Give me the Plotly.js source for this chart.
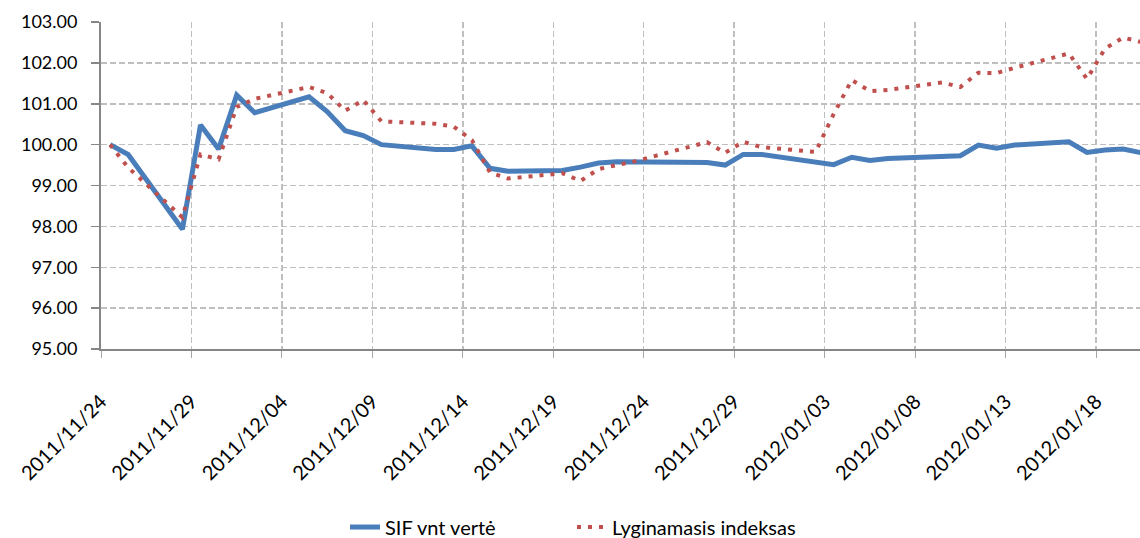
<!DOCTYPE html>
<html>
<head>
<meta charset="utf-8">
<script src="https://cdn.plot.ly/plotly-3.0.1.min.js"></script>
<style>
  html, body { margin: 0; padding: 0; background: #ffffff; overflow: hidden; }
  #chart { width: 1140px; height: 538px; }
</style>
</head>
<body>
<div id="chart"></div>
<script>
// Trading dates
const dates = [
  "2011-11-24","2011-11-25","2011-11-28","2011-11-29","2011-11-30",
  "2011-12-01","2011-12-02","2011-12-05","2011-12-06","2011-12-07",
  "2011-12-08","2011-12-09","2011-12-12","2011-12-13","2011-12-14",
  "2011-12-15","2011-12-16","2011-12-19","2011-12-20","2011-12-21",
  "2011-12-22","2011-12-23","2011-12-27","2011-12-28","2011-12-29",
  "2011-12-30","2012-01-02","2012-01-03","2012-01-04","2012-01-05",
  "2012-01-06","2012-01-09","2012-01-10","2012-01-11","2012-01-12",
  "2012-01-13","2012-01-16","2012-01-17","2012-01-18","2012-01-19",
  "2012-01-20"
];

// SIF vnt vertė
const sifValues = [
  100.00, 99.76, 97.93, 100.48, 99.89,
  101.21, 100.78, 101.17, 100.81, 100.34,
  100.22, 100.00, 99.88, 99.88, 99.97,
  99.42, 99.35, 99.37, 99.45, 99.55,
  99.58, 99.58, 99.56, 99.50, 99.76,
  99.76, 99.57, 99.51, 99.69, 99.61,
  99.66, 99.71, 99.73, 99.99, 99.91,
  99.99, 100.07, 99.81, 99.87, 99.89,
  99.80
];

// Lyginamasis indeksas
const indexValues = [
  100.00, 99.44, 98.22, 99.76, 99.64,
  100.92, 101.12, 101.41, 101.26, 100.83,
  101.09, 100.57, 100.51, 100.44, 100.11,
  99.32, 99.17, 99.30, 99.11, 99.40,
  99.50, 99.59, 100.06, 99.80, 100.07,
  99.94, 99.82, 100.75, 101.58, 101.31,
  101.34, 101.52, 101.41, 101.76, 101.75,
  101.88, 102.23, 101.61, 102.35, 102.62,
  102.51
];

const seriesNames = ["SIF vnt vertė", "Lyginamasis indeksas"];

const DAY = 86400000;
const fontFamily = "Lato, 'Open Sans', sans-serif";

const traces = [
  {
    x: dates, y: sifValues, name: seriesNames[0],
    type: "scatter", mode: "lines", legend: "legend",
    xperiod: DAY, xperiodalignment: "middle",
    line: { color: "#4A7EBB", width: 5 }
  },
  {
    x: dates, y: indexValues, name: seriesNames[1],
    type: "scatter", mode: "lines", legend: "legend2",
    xperiod: DAY, xperiodalignment: "middle",
    line: { color: "#C0504D", width: 4, dash: "4px,7px" }
  }
];

const legendBase = {
  orientation: "h",
  xref: "container", yref: "container",
  xanchor: "left",
  y: 0.0204, yanchor: "middle",
  font: { family: fontFamily, size: 20, color: "#000000" },
  bgcolor: "rgba(0,0,0,0)"
};

const layout = {
  width: 1140, height: 538,
  margin: { l: 101, r: 0, t: 22, b: 189, pad: 0, autoexpand: false },
  paper_bgcolor: "#ffffff",
  plot_bgcolor: "#ffffff",
  font: { family: fontFamily, size: 20, color: "#000000" },
  showlegend: true,
  legend: Object.assign({}, legendBase, { x: 345 / 1140 }),
  legend2: Object.assign({}, legendBase, { x: 572 / 1140 }),
  xaxis: {
    type: "date",
    range: ["2011-11-24", "2012-01-20 10:20"],
    tick0: "2011-11-24",
    dtick: 5 * DAY,
    tickformat: "%Y/%m/%d",
    tickangle: -45,
    ticks: "outside", ticklen: 7, tickcolor: "#A6A6A6", tickwidth: 1,
    ticklabelstandoff: 24,
    showline: true, linecolor: "#868686", linewidth: 2,
    showgrid: true, gridcolor: "#BFBFBF", gridwidth: 1.5, griddash: "6px,3px",
    zeroline: false,
    automargin: false,
    tickfont: { family: fontFamily, size: 20, color: "#000000" }
  },
  yaxis: {
    range: [95, 103],
    dtick: 1, tick0: 95,
    tickformat: ".2f",
    ticks: "outside", ticklen: 8, tickcolor: "#868686", tickwidth: 1.5,
    ticklabelstandoff: 10,
    showline: true, linecolor: "#868686", linewidth: 2,
    showgrid: true, gridcolor: "#BFBFBF", gridwidth: 1.5, griddash: "6px,3px",
    zeroline: false,
    automargin: false,
    tickfont: { family: fontFamily, size: 18, color: "#000000" }
  },
  hovermode: false
};

Plotly.newPlot("chart", traces, layout, { staticPlot: true, displayModeBar: false });
</script>
</body>
</html>
